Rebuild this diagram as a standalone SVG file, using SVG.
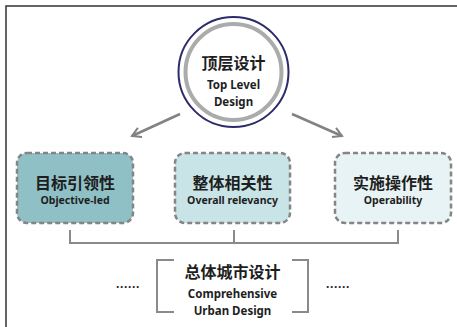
<svg xmlns="http://www.w3.org/2000/svg" width="457" height="327" viewBox="0 0 457 327">
<style>
.cn{font-family:"Noto Sans CJK SC","Noto Sans",sans-serif;font-weight:bold;fill:#1e1e1e;text-anchor:middle;dominant-baseline:central}
.en{font-family:"Noto Sans","Noto Sans CJK SC",sans-serif;font-weight:bold;fill:#1e1e1e;text-anchor:middle;dominant-baseline:central}
.box{stroke:#858585;stroke-width:2.5;stroke-dasharray:5 3}
.ln{stroke:#8a8a8a;stroke-width:2;fill:none}
.arr{stroke:#828282;stroke-width:2.5;fill:none}
</style>
<defs>
<marker id="ah" viewBox="0 0 10 10" refX="8" refY="5" markerWidth="5" markerHeight="5" orient="auto" markerUnits="strokeWidth">
<path d="M1,1 L8,5 L1,9" fill="none" stroke="#828282" stroke-width="1.6"/>
</marker>
</defs>
<rect width="457" height="327" fill="#fff"/>
<path d="M6,327 V6 H457" fill="none" stroke="#333" stroke-width="1.5"/>
<g id="top">
<circle cx="233.5" cy="72" r="55" fill="#fff" stroke="#2e2b6b" stroke-width="2"/>
<circle cx="233.5" cy="72" r="48" fill="#fff" stroke="#ababab" stroke-width="4"/>
<text class="cn" x="233.5" y="62" font-size="16">顶层设计</text>
<text class="en" x="233.5" y="84" font-size="11.5">Top Level</text>
<text class="en" x="233.5" y="101" font-size="11.5">Design</text>
</g>
<g id="connectors">
<line class="arr" x1="180" y1="114" x2="132" y2="136" marker-end="url(#ah)"/>
<line class="arr" x1="292" y1="114" x2="342" y2="136" marker-end="url(#ah)"/>
<path class="ln" d="M70,230 V243 H398 V230 M234,230 V243"/>
</g>
<g id="n1">
<rect class="box" x="17" y="153" width="116" height="70" rx="10" fill="#8ec0c6"/>
<text class="cn" x="75" y="181.5" font-size="16">目标引领性</text>
<text class="en" x="75" y="200" font-size="10.5">Objective-led</text>
</g>
<g id="n2">
<rect class="box" x="175" y="153" width="115" height="70" rx="10" fill="#c9e4e7"/>
<text class="cn" x="232.5" y="181.5" font-size="16">整体相关性</text>
<text class="en" x="232.5" y="200" font-size="10.5">Overall relevancy</text>
</g>
<g id="n3">
<rect class="box" x="335" y="153" width="116" height="70" rx="10" fill="#e8f3f5"/>
<text class="cn" x="393" y="181.5" font-size="16">实施操作性</text>
<text class="en" x="393" y="200" font-size="10.5">Operability</text>
</g>
<g id="bottom">
<path class="ln" d="M174,260 H157 V312 H174 M292,260 H308 V312 H292"/>
<text class="cn" x="232.5" y="271" font-size="16">总体城市设计</text>
<text class="en" x="232.5" y="293" font-size="11.5">Comprehensive</text>
<text class="en" x="232.5" y="310" font-size="11.5">Urban Design</text>
<text class="en" x="128" y="283" font-size="12" letter-spacing="0.6">......</text>
<text class="en" x="338" y="283" font-size="12" letter-spacing="0.6">......</text>
</g>
</svg>
